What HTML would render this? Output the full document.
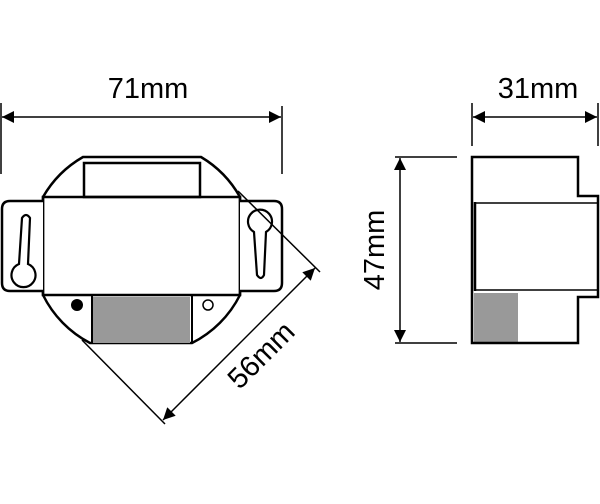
<!DOCTYPE html>
<html><head><style>
html,body{margin:0;padding:0;background:#fff;width:600px;height:504px;overflow:hidden}
svg{display:block}
text{font-family:"Liberation Sans",Arial,sans-serif;fill:#000}
</style></head><body>
<svg width="600" height="504" viewBox="0 0 600 504" xmlns="http://www.w3.org/2000/svg">
<defs>
<marker id="a" viewBox="0 0 10 10" refX="10" refY="5" markerWidth="18" markerHeight="12" markerUnits="userSpaceOnUse" orient="auto-start-reverse">
<path d="M0,0 L10,5 L0,10 z" fill="#000"/></marker>
</defs>
<g stroke="#000" fill="none">
<!-- 71mm dimension -->
<line x1="1" y1="103" x2="1" y2="174" stroke-width="1.5"/>
<line x1="282" y1="106" x2="282" y2="174" stroke-width="1.5"/>
<line x1="2" y1="117" x2="281" y2="117" stroke-width="1.5" marker-start="url(#a)" marker-end="url(#a)"/>
<!-- front body outline -->
<path d="M83,157 L201,157 A108,108 0 0 1 240,197 L240,295 A108,108 0 0 1 192,343 L90,343 A108,108 0 0 1 43,295 L43,197 A108,108 0 0 1 83,157 Z" stroke-width="2.5" fill="#fff"/>
<rect x="84" y="163" width="116" height="34" stroke-width="2.5"/>
<rect x="43" y="197" width="197" height="98" stroke-width="2.5"/>
<rect x="93" y="297" width="97" height="46" fill="#999" stroke="none"/>
<line x1="92" y1="295" x2="92" y2="343" stroke-width="2"/>
<line x1="192" y1="295" x2="192" y2="343" stroke-width="2"/>
<circle cx="77" cy="305" r="6" fill="#000" stroke="none"/>
<circle cx="208" cy="305" r="5" stroke-width="1.5"/>
<!-- ears -->
<path d="M43,201 L10,201 Q2,201 2,209 L2,283 Q2,291 10,291 L43,291" stroke-width="2.5" fill="#fff"/>
<path d="M240,201 L274,201 Q282,201 282,209 L282,283 Q282,291 274,291 L240,291" stroke-width="2.5" fill="#fff"/>
<path d="M22,218 Q26,212 30,218 L28,264 A12,12 0 1 1 19,264 Z" stroke-width="2.2"/>
<path d="M254,232 A12,12 0 1 1 266,232 L264,275 Q261,281 257,275 Z" stroke-width="2.2"/>
<!-- 56mm dimension -->
<line x1="238" y1="191" x2="320" y2="272" stroke-width="1.5"/>
<line x1="82" y1="340" x2="165" y2="424" stroke-width="1.5"/>
<line x1="163" y1="420" x2="315" y2="268" stroke-width="1.5" marker-start="url(#a)" marker-end="url(#a)"/>
<!-- side view -->
<line x1="472" y1="103" x2="472" y2="146" stroke-width="1.5"/>
<line x1="598" y1="103" x2="598" y2="146" stroke-width="1.5"/>
<line x1="473" y1="117" x2="597" y2="117" stroke-width="1.5" marker-start="url(#a)" marker-end="url(#a)"/>
<line x1="395" y1="157" x2="457" y2="157" stroke-width="1.5"/>
<line x1="395" y1="343" x2="457" y2="343" stroke-width="1.5"/>
<line x1="400" y1="158" x2="400" y2="342" stroke-width="1.5" marker-start="url(#a)" marker-end="url(#a)"/>
<rect x="474" y="293" width="44" height="49" fill="#999" stroke="none"/>
<path d="M472,157 L578,157 L578,196 L598,196 L598,297 L578,297 L578,343 L472,343 Z" stroke-width="2.5"/>
<line x1="475" y1="203" x2="598" y2="203" stroke-width="1.5"/>
<line x1="475" y1="290" x2="598" y2="290" stroke-width="1.5"/>
<line x1="475" y1="202" x2="475" y2="291" stroke-width="2.5"/>
</g>
<text x="148" y="98" font-size="29" text-anchor="middle">71mm</text>
<text x="538" y="98" font-size="29" text-anchor="middle">31mm</text>
<text transform="translate(384,250) rotate(-90)" font-size="29" text-anchor="middle">47mm</text>
<text transform="translate(268,362) rotate(-45)" font-size="29" text-anchor="middle">56mm</text>
</svg>
</body></html>
